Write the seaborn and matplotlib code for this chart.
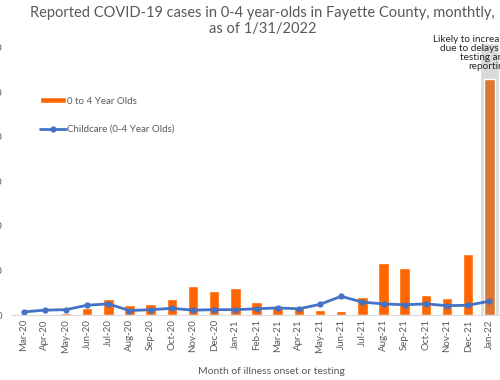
import numpy as np
import pandas as pd
import matplotlib
matplotlib.use("Agg")
import matplotlib.pyplot as plt
import seaborn as sns

# monthly values
months = ["Mar-20", "Apr-20", "May-20", "Jun-20", "Jul-20", "Aug-20", "Sep-20",
          "Oct-20", "Nov-20", "Dec-20", "Jan-21", "Feb-21", "Mar-21", "Apr-21",
          "May-21", "Jun-21", "Jul-21", "Aug-21", "Sep-21", "Oct-21", "Nov-21",
          "Dec-21", "Jan-22"]
cases_0_4 = [2, 2, 5, 16, 36, 22, 25, 36, 65, 54, 61, 29, 17, 17, 12, 9, 40,
             117, 106, 45, 38, 137, 530]
childcare = [7, 11, 12, 22, 25, 10, 12, 15, 11, 12, 12, 14, 16, 14, 24, 42, 29,
             25, 23, 25, 21, 22, 31]
# grey band marking the incomplete month
incomplete = [0] * 22 + [611]
y_ticks = [0, 100, 200, 300, 400, 500, 600]

df = pd.DataFrame({"month": months, "cases": cases_0_4,
                   "childcare": childcare, "incomplete": incomplete})

sns.set_style("white")
plt.rcParams["font.family"] = ["Lato", "DejaVu Sans"]
grey = "#595959"

fig = plt.figure(figsize=(5, 3.8), dpi=100)
ax = fig.add_axes([0.024, 0.171, 0.978, 0.716])

sns.barplot(data=df, x="month", y="incomplete", color="#D9D9D9", width=0.9,
            saturation=1, ax=ax)
sns.barplot(data=df, x="month", y="cases", color="#FF6600", width=0.5,
            saturation=1, ax=ax, label="0 to 4 Year Olds")
ax.patches[-1].set_facecolor("#DC7633")
sns.lineplot(data=df, x="month", y="childcare", color="#4472C4", linewidth=2,
             marker="o", markersize=4.5, markeredgewidth=0, ax=ax,
             label="Childcare (0-4 Year Olds)")

ax.set_ylim(0, 611)
ax.set_xlim(-0.55, 22.55)
ax.set_yticks(y_ticks)
ax.set_yticklabels([str(v) for v in y_ticks], fontsize=7, color=grey)
ax.tick_params(axis="y", length=0, pad=7)
ax.tick_params(axis="x", length=0, pad=3, labelsize=7, labelcolor=grey,
               rotation=90)
ax.set_ylabel("")
ax.set_xlabel("Month of illness onset or testing", fontsize=7.5, color=grey,
              labelpad=4)
ax.xaxis.set_label_coords(0.53, -0.19)
for side in ["top", "right", "left"]:
    ax.spines[side].set_visible(False)
ax.spines["bottom"].set_color("#D9D9D9")

handles, labels = ax.get_legend_handles_labels()
order = ["0 to 4 Year Olds", "Childcare (0-4 Year Olds)"]
picked = [handles[labels.index(l)] for l in order]
ax.legend(picked, order, loc="upper left", bbox_to_anchor=(0.04, 0.835),
          frameon=False, fontsize=7, labelcolor=grey, labelspacing=2.0,
          handlelength=2.6, handletextpad=0.15, handleheight=0.6)

ax.text(1.016, 1.03, "Likely to increase\ndue to delays in\ntesting and\nreporting",
        transform=ax.transAxes, ha="right", va="top", fontsize=7.2,
        color="#262626", linespacing=1.0, multialignment="right")

fig.suptitle("Reported COVID-19 cases in 0-4 year-olds in Fayette County, monthtly,\nas of 1/31/2022",
             x=0.525, y=0.985, fontsize=10.5, color=grey, linespacing=1.25)

fig.savefig("out.png", dpi=100)
